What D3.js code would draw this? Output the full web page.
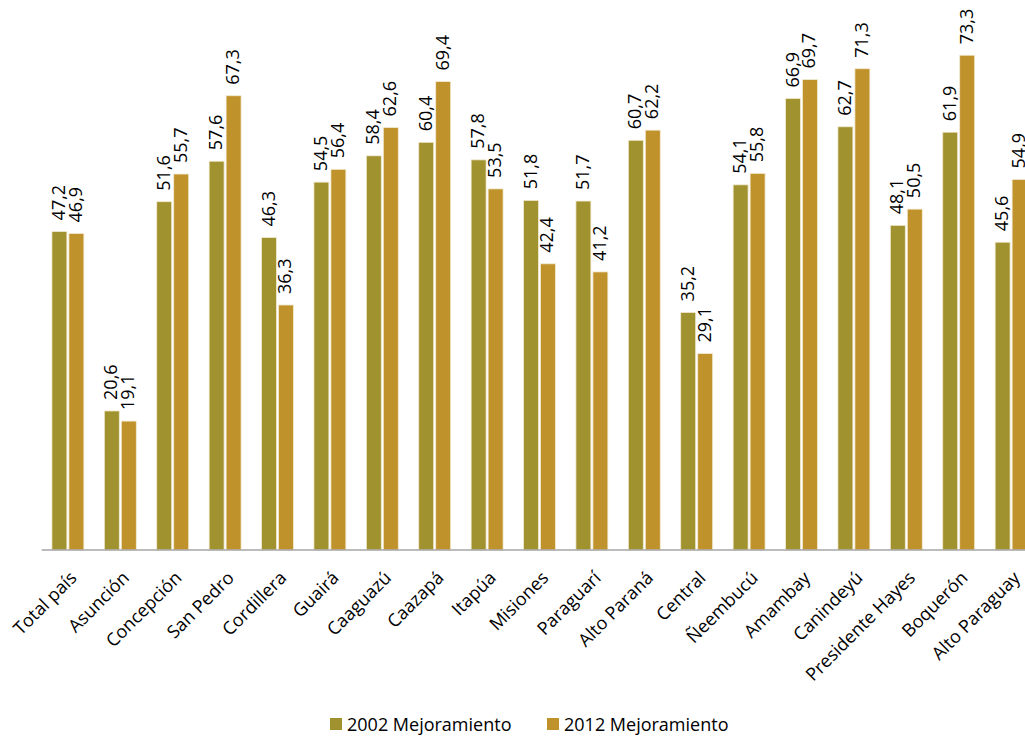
<!DOCTYPE html>
<html><head><meta charset="utf-8">
<script src="https://cdn.jsdelivr.net/npm/d3@7"></script>
<style>body{margin:0;background:#fff}svg{display:block}</style>
</head><body><svg id="c" width="1025" height="736"></svg>
<script>
const categories = ["Total país","Asunción","Concepción","San Pedro","Cordillera","Guairá","Caaguazú","Caazapá","Itapúa","Misiones","Paraguarí","Alto Paraná","Central","Ñeembucú","Amambay","Canindeyú","Presidente Hayes","Boquerón","Alto Paraguay"];
const series2002 = [47.2,20.6,51.6,57.6,46.3,54.5,58.4,60.4,57.8,51.8,51.7,60.7,35.2,54.1,66.9,62.7,48.1,61.9,45.6];
const series2012 = [46.9,19.1,55.7,67.3,36.3,56.4,62.6,69.4,53.5,42.4,41.2,62.2,29.1,55.8,69.7,71.3,50.5,73.3,54.9];
const seriesNames = ["2002 Mejoramiento","2012 Mejoramiento"];
const colors = ["#A19230","#C0922B"];

const font = "'Open Sans', 'DejaVu Sans', sans-serif";
const svg = d3.select("#c");
const x0 = 41.7, baseY = 550;
const x = d3.scaleBand().domain(categories).range([x0, x0 + 19*52.4]).paddingInner(0.39).paddingOuter(0.195);
const xs = d3.scaleBand().domain([0,1]).range([0, x.bandwidth()]).paddingInner(0.118);
const y = d3.scaleLinear().domain([0, 80]).range([baseY, 10]);

const data = [series2002, series2012];
const g = svg.append("g");
data.forEach((vals, si) => {
  g.selectAll(".b"+si).data(vals).enter().append("rect")
    .attr("x", (d,i) => x(categories[i]) + xs(si))
    .attr("y", d => y(d))
    .attr("width", xs.bandwidth())
    .attr("height", d => baseY - y(d))
    .attr("fill", colors[si])
    .attr("stroke", "#f3ecd4").attr("stroke-width", 0.8);
  g.selectAll(".l"+si).data(vals).enter().append("text")
    .attr("transform", (d,i) => {
      const cx = x(categories[i]) + xs(si) + xs.bandwidth()/2 + 5.5;
      return `translate(${cx},${y(d) - 11}) rotate(-90)`;
    })
    .attr("font-family", font).attr("font-size", 18).attr("fill", "#000")
    .text(d => d.toFixed(1).replace(".", ","));
});

// axis
const axis = svg.append("g").attr("transform", `translate(0,${baseY})`)
  .call(d3.axisBottom(x).tickSize(0).tickPadding(0));
axis.select(".domain").attr("stroke", "#a6a6a6").attr("stroke-width", 1.5).attr("d", `M${x0},0H1025`);
axis.selectAll(".tick text")
  .attr("font-family", font).attr("font-size", 18).attr("fill", "#000")
  .attr("text-anchor", "end").attr("dy", 0)
  .attr("transform", "translate(10,29) rotate(-45)");

// legend
const leg = svg.append("g");
const legX = [330, 547];
seriesNames.forEach((n, i) => {
  leg.append("rect").attr("x", legX[i]).attr("y", 718).attr("width", 12).attr("height", 12).attr("fill", colors[i]);
  leg.append("text").attr("x", legX[i] + 17).attr("y", 731)
    .attr("font-family", font).attr("font-size", 18).attr("fill", "#000").text(n);
});
</script></body></html>
